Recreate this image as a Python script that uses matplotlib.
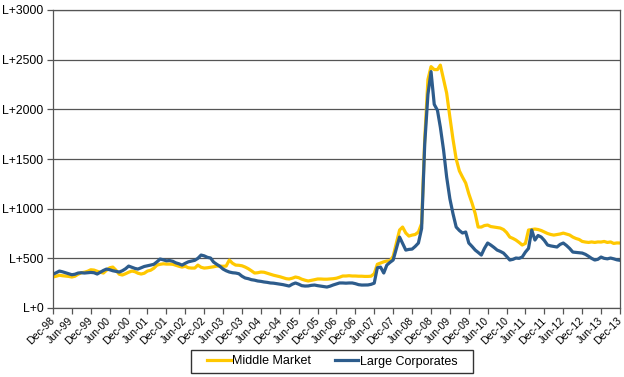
# Middle market vs large corporate loan spreads, Dec-98 to Dec-13 (monthly)
import numpy as np
import pandas as pd
import matplotlib
matplotlib.use('Agg')
import matplotlib.pyplot as plt
import matplotlib.transforms as mtransforms
from matplotlib.patches import Rectangle

plt.rcParams['font.family'] = ['Liberation Sans', 'DejaVu Sans']

months = pd.date_range('1998-12-01', periods=181, freq='MS')

# spread over LIBOR in bp
middle_market = [
    312, 320, 330, 325, 322, 318, 312, 320, 340, 355, 360, 370,
    385, 382, 370, 360, 352, 380, 405, 412, 380, 340, 332, 345,
    360, 372, 365, 350, 342, 350, 372, 380, 400, 432, 440, 445,
    442, 442, 440, 430, 420, 412, 420, 405, 402, 402, 432, 410,
    402, 405, 410, 415, 422, 422, 420, 422, 483, 450, 432, 430,
    425, 412, 395, 375, 352, 355, 362, 360, 350, 340, 330, 322,
    315, 305, 295, 292, 300, 312, 305, 290, 280, 272, 278, 285,
    292, 292, 290, 290, 292, 295, 300, 310, 322, 322, 325, 322,
    322, 320, 320, 318, 318, 320, 345, 440, 453, 465, 473, 475,
    520, 654, 785, 815, 755, 724, 734, 740, 765, 850, 1700, 2300,
    2430, 2400, 2400, 2445, 2300, 2163, 1922, 1700, 1500, 1380, 1318, 1258,
    1150, 1056, 950, 815, 815, 830, 835, 820, 815, 810, 805, 790,
    760, 714, 700, 684, 660, 634, 650, 785, 790, 795, 790, 780,
    765, 750, 740, 734, 740, 745, 754, 745, 735, 714, 700, 690,
    670, 664, 660, 665, 660, 665, 664, 670, 660, 665, 650, 655,
    654,
]
large_corporates = [
    340, 355, 372, 365, 355, 345, 335, 340, 352, 355, 352, 355,
    358, 355, 342, 360, 378, 392, 385, 375, 368, 362, 375, 395,
    422, 410, 398, 392, 405, 418, 425, 432, 440, 465, 493, 485,
    475, 478, 470, 455, 445, 432, 450, 465, 473, 480, 500, 533,
    525, 510, 503, 463, 440, 420, 392, 375, 362, 355, 352, 345,
    320, 302, 295, 285, 280, 272, 268, 262, 258, 252, 250, 245,
    240, 235, 228, 221, 240, 252, 240, 225, 221, 222, 228, 231,
    225, 220, 215, 211, 220, 232, 242, 252, 252, 250, 252, 252,
    245, 235, 231, 232, 232, 238, 250, 405, 412, 352, 432, 460,
    483, 600, 714, 650, 583, 590, 593, 620, 654, 800, 1650, 2150,
    2380, 2050, 1990, 1820, 1590, 1318, 1100, 950, 815, 780, 755, 765,
    654, 620, 583, 560, 533, 600, 654, 634, 610, 583, 570, 553,
    520, 483, 490, 503, 500, 513, 563, 600, 785, 684, 730, 714,
    680, 634, 625, 620, 614, 640, 654, 630, 600, 563, 560, 558,
    553, 540, 520, 500, 483, 490, 513, 500, 495, 503, 495, 485,
    480,
]

y_ticks = [0, 500, 1000, 1500, 2000, 2500, 3000]
y_labels = ['L+%d' % v for v in y_ticks]

W, H = 624, 377
fig = plt.figure(figsize=(W/100, H/100), dpi=100)
ax = fig.add_axes([53/W, 1 - 308/H, 567/W, 298/H])

ax.plot(months, middle_market, color='#FFC800', lw=2.3, label='Middle Market')
ax.plot(months, large_corporates, color='#2D5C8C', lw=2.3, label='Large Corporates')

ax.set_ylim(0, 3000)
ax.set_yticks(y_ticks)
ax.set_yticklabels(y_labels, fontsize=8.8)
ax.grid(axis='y', color='#555555', lw=0.9)
ax.set_axisbelow(True)

xt = months[::6]
ax.set_xlim(months[0], months[-1])
ax.set_xticks(xt)
ax.set_xticklabels([d.strftime('%b-%y') for d in xt], rotation=45, ha='right',
                   va='center', rotation_mode='anchor', fontsize=7.6)
# nudge the slanted labels a touch to the right, as in the original
shift = mtransforms.ScaledTranslation(1/100, 0, fig.dpi_scale_trans)
for lbl in ax.get_xticklabels():
    lbl.set_transform(lbl.get_transform() + shift)

for s in ax.spines.values():
    s.set_color('#555555')
    s.set_linewidth(0.9)
ax.tick_params(axis='y', color='#555555', length=4, width=0.9, pad=3)
ax.tick_params(axis='x', color='#555555', length=4, width=0.9, pad=4)

# legend with a hand-drawn frame
leg = fig.legend(loc='center', bbox_to_anchor=(332/W, 1 - 361.5/H), ncol=2,
                 fontsize=9, frameon=False, handlelength=1.9,
                 handletextpad=0.1, columnspacing=1.9)
fig.patches.append(Rectangle((191/W, 1 - 373/H), 282/W, 23/H,
                             transform=fig.transFigure, fill=False,
                             edgecolor='#333333', lw=1.0))

fig.savefig('out.png', dpi=100)
